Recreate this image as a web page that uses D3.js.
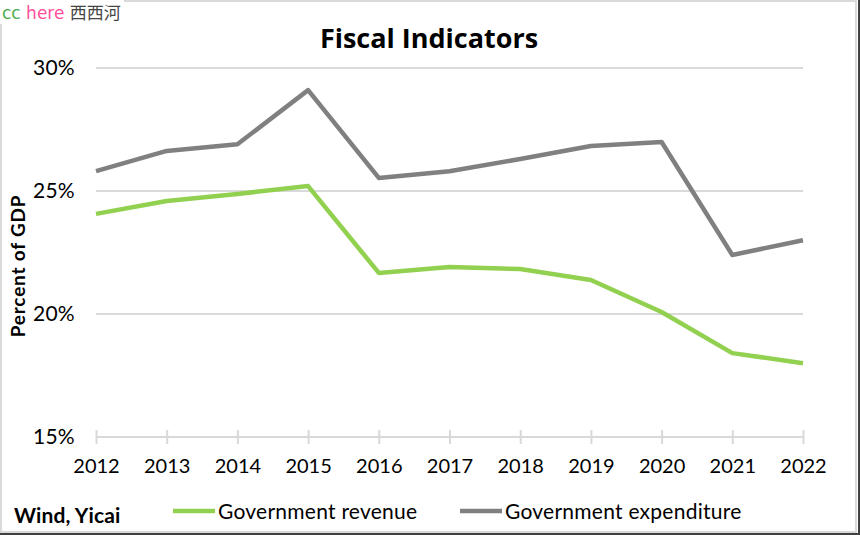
<!DOCTYPE html>
<html><head><meta charset="utf-8">
<script src="https://cdn.jsdelivr.net/npm/d3@7"></script>
<style>html,body{margin:0;padding:0;background:#fff;}svg{display:block;}</style>
</head><body>
<svg id="chart" width="860" height="535"></svg>
<script>
const years = ["2012","2013","2014","2015","2016","2017","2018","2019","2020","2021","2022"];
const revenue = [24.07, 24.59, 24.88, 25.2, 21.67, 21.91, 21.83, 21.38, 20.08, 18.41, 18.0];
const expenditure = [25.81, 26.63, 26.9, 29.1, 25.53, 25.8, 26.3, 26.83, 26.99, 22.4, 23.0];
const yTicks = [15, 20, 25, 30];
const seriesNames = ["Government revenue", "Government expenditure"];
const seriesColors = ["#92d050", "#808080"];
const font = "Lato, 'Open Sans', sans-serif";

const svg = d3.select("#chart");
// frame
svg.append("rect").attr("x",1).attr("y",1).attr("width",855).attr("height",531)
  .attr("fill","#fff").attr("stroke","#d9d9d9").attr("stroke-width",2);
svg.append("line").attr("x1",859).attr("x2",859).attr("y1",0).attr("y2",535).attr("stroke","#404040").attr("stroke-width",2);
svg.append("line").attr("x1",0).attr("x2",860).attr("y1",534).attr("y2",534).attr("stroke","#404040").attr("stroke-width",2);

// logo
svg.append("rect").attr("x",0).attr("y",0).attr("width",124).attr("height",24).attr("fill","#fff");
const logo = svg.append("text").attr("x",2).attr("y",19).attr("font-family","'DejaVu Sans', sans-serif").attr("font-size",17);
logo.append("tspan").attr("fill","#4caf50").text("cc ");
logo.append("tspan").attr("fill","#ff4f9a").text("here ");
logo.append("tspan").attr("fill","#444").attr("font-family","'Noto Sans CJK SC', sans-serif").text("西西河");

const x = d3.scalePoint().domain(years).range([96, 803]);
const y = d3.scaleLinear().domain([15, 30]).range([437, 68]);

// gridlines
svg.append("g").selectAll("line").data(yTicks.filter(d=>d!==15)).join("line")
  .attr("x1",96).attr("x2",803).attr("y1",d=>y(d)).attr("y2",d=>y(d))
  .attr("stroke","#d9d9d9").attr("stroke-width",2);

// x axis
const xAxis = svg.append("g").attr("transform",`translate(0,${y(15)})`)
  .call(d3.axisBottom(x).tickSize(7).tickPadding(15));
xAxis.select(".domain").attr("stroke","#d9d9d9").attr("stroke-width",2).attr("d","M96,0H803");
xAxis.selectAll(".tick line").attr("stroke","#d9d9d9").attr("stroke-width",2).attr("y1",-7).attr("y2",7);
xAxis.selectAll("text").attr("font-family",font).attr("font-size",20).attr("fill","#000");

// y axis labels
const yAxis = svg.append("g").attr("transform","translate(96,0)")
  .call(d3.axisLeft(y).tickValues(yTicks).tickFormat(d=>d+"%").tickSize(0).tickPadding(21));
yAxis.select(".domain").remove();
yAxis.selectAll("text").attr("font-family",font).attr("font-size",21).attr("fill","#000").attr("letter-spacing",0.3);

// y axis title
svg.append("text").attr("transform","translate(25,266) rotate(-90)").attr("text-anchor","middle")
  .attr("font-family",font).attr("font-size",19).attr("font-weight","bold").attr("letter-spacing",0.8).text("Percent of GDP");

// title
svg.append("text").attr("x",429).attr("y",48).attr("text-anchor","middle")
  .attr("font-family","'Open Sans', sans-serif").attr("font-size",27).attr("font-weight","bold").text("Fiscal Indicators");

// lines
const line = d3.line().x((d,i)=>x(years[i])).y(d=>y(d));
[revenue, expenditure].forEach((s,k)=>{
  svg.append("path").datum(s).attr("d",line).attr("fill","none")
    .attr("stroke",seriesColors[k]).attr("stroke-width",4.5).attr("stroke-linejoin","round");
});

// source
svg.append("text").attr("x",14).attr("y",523).attr("font-family",font).attr("font-size",21)
  .attr("font-weight","bold").attr("letter-spacing",0.1).text("Wind, Yicai");

// legend
const legX = [173, 460];
seriesNames.forEach((n,k)=>{
  svg.append("line").attr("x1",legX[k]).attr("x2",legX[k]+42).attr("y1",511).attr("y2",511)
    .attr("stroke",seriesColors[k]).attr("stroke-width",4.5);
  svg.append("text").attr("x",legX[k]+45).attr("y",519).attr("font-family",font).attr("font-size",21)
    .attr("fill","#000").attr("letter-spacing",0.25).text(n);
});
</script>
</body></html>
